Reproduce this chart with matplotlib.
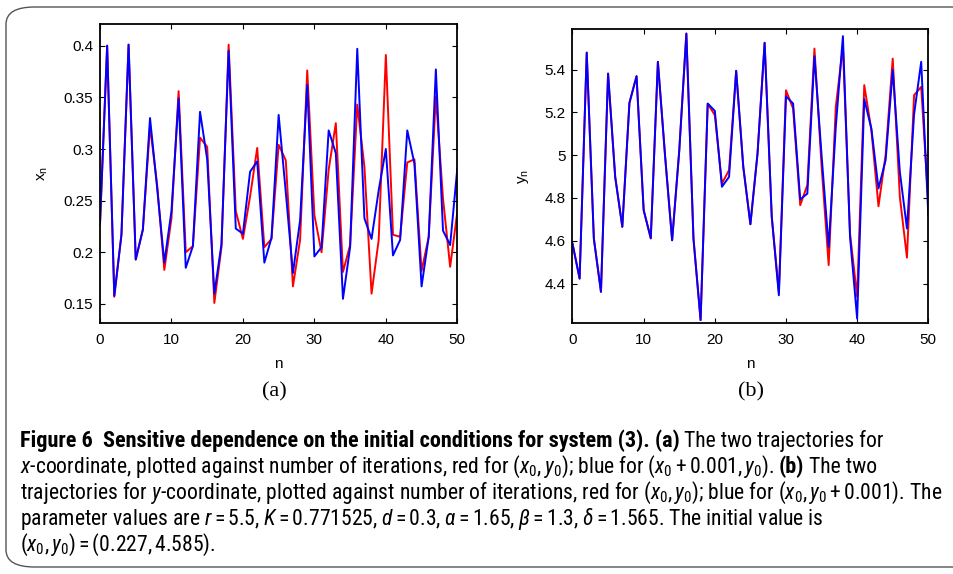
import matplotlib
matplotlib.use("Agg")
import matplotlib.pyplot as plt
from matplotlib import font_manager
from matplotlib.patches import FancyBboxPatch

# iteration index
n = list(range(51))

# panel (a): x_n, red = (x0, y0), blue = (x0 + 0.001, y0)
x_red = [0.227, 0.400, 0.157, 0.217, 0.401, 0.193, 0.222, 0.322, 0.265, 0.183,
         0.233, 0.356, 0.200, 0.206, 0.311, 0.302, 0.151, 0.205, 0.401, 0.240,
         0.213, 0.254, 0.301, 0.205, 0.213, 0.304, 0.289, 0.167, 0.212, 0.376,
         0.236, 0.200, 0.280, 0.325, 0.181, 0.207, 0.343, 0.283, 0.160, 0.212,
         0.391, 0.217, 0.215, 0.287, 0.290, 0.182, 0.215, 0.351, 0.252, 0.186,
         0.239]
x_blue = [0.228, 0.400, 0.158, 0.217, 0.401, 0.193, 0.222, 0.330, 0.262, 0.190,
          0.240, 0.349, 0.185, 0.206, 0.336, 0.290, 0.160, 0.208, 0.395, 0.223,
          0.218, 0.278, 0.288, 0.190, 0.214, 0.333, 0.258, 0.180, 0.231, 0.362,
          0.196, 0.205, 0.318, 0.296, 0.155, 0.205, 0.397, 0.233, 0.213, 0.260,
          0.300, 0.197, 0.212, 0.318, 0.286, 0.167, 0.215, 0.377, 0.221, 0.207,
          0.281]

# panel (b): y_n, red = (x0, y0), blue = (x0, y0 + 0.001)
y_red = [4.585, 4.423, 5.479, 4.610, 4.361, 5.381, 4.898, 4.665, 5.244, 5.369,
         4.743, 4.610, 5.436, 5.000, 4.602, 5.020, 5.568, 4.610, 4.229, 5.240,
         5.187, 4.867, 4.930, 5.394, 4.945, 4.677, 5.007, 5.525, 4.712, 4.360,
         5.303, 5.218, 4.766, 4.860, 5.498, 4.950, 4.486, 5.226, 5.506, 4.634,
         4.338, 5.327, 5.117, 4.761, 5.000, 5.451, 4.805, 4.521, 5.280, 5.319,
         4.780]
y_blue = [4.587, 4.423, 5.479, 4.610, 4.361, 5.381, 4.898, 4.665, 5.244, 5.369,
          4.743, 4.612, 5.436, 5.000, 4.602, 5.020, 5.568, 4.610, 4.229, 5.241,
          5.207, 4.852, 4.898, 5.394, 4.945, 4.677, 5.007, 5.525, 4.712, 4.345,
          5.275, 5.241, 4.793, 4.820, 5.462, 5.000, 4.571, 5.132, 5.556, 4.618,
          4.236, 5.261, 5.124, 4.844, 4.976, 5.397, 4.922, 4.657, 5.190, 5.436,
          4.720]

x_ticks = [0, 10, 20, 30, 40, 50]
xa_ticks = [0.15, 0.2, 0.25, 0.3, 0.35, 0.4]
yb_ticks = [4.4, 4.6, 4.8, 5.0, 5.2, 5.4]

# caption font: a narrow sans if one is there, else Liberation Sans
names = {f.name for f in font_manager.fontManager.ttflist}
cap_font = 'Liberation Sans'
for cand in ['Liberation Sans Narrow', 'Roboto Condensed', 'Open Sans Condensed',
             'Noto Sans Condensed', 'DejaVu Sans Condensed']:
    if cand in names:
        cap_font = cand
        break
plt.rcParams['font.family'] = 'Liberation Sans'
plt.rcParams['mathtext.fontset'] = 'custom'
plt.rcParams['mathtext.rm'] = cap_font
plt.rcParams['mathtext.it'] = cap_font + ':italic'
plt.rcParams['mathtext.bf'] = cap_font + ':bold'

W, H = 954, 574
fig = plt.figure(figsize=(W / 100, H / 100), dpi=100)

# rounded frame around the figure
frame = FancyBboxPatch((6 / W, 7 / H), 1.2, (H - 14) / H, transform=fig.transFigure,
                       boxstyle="round,pad=0,rounding_size=0.03", fill=False,
                       edgecolor='#555555', linewidth=1.0)
fig.patches.append(frame)


def px_axes(x0, x1, top, bottom):
    return fig.add_axes([x0 / W, (H - bottom) / H, (x1 - x0) / W, (bottom - top) / H])


def style(ax):
    ax.tick_params(direction='in', top=True, right=True, length=3.4, width=0.8,
                   labelsize=11, labelfontfamily='Liberation Sans')
    ax.tick_params(axis='x', pad=7)
    ax.tick_params(axis='y', pad=5)
    for s in ax.spines.values():
        s.set_linewidth(1.3)


ax1 = px_axes(100, 457.3, 24.3, 323.3)
ax1.plot(n, x_red, color='#ff0000', lw=1.4)
ax1.plot(n, x_blue, color='#0000ff', lw=1.4)
ax1.set_xlim(0, 50)
ax1.set_ylim(0.1313, 0.4207)
ax1.set_xticks(x_ticks)
ax1.set_yticks(xa_ticks)
ax1.set_yticklabels(['%g' % v for v in xa_ticks])
style(ax1)
ax1.set_xlabel('n', fontsize=11, labelpad=7)
ax1.set_ylabel(r'$\mathregular{x_n}$', fontsize=11, labelpad=10)

ax2 = px_axes(572.5, 928.3, 29.3, 323.3)
ax2.plot(n, y_red, color='#ff0000', lw=1.4)
ax2.plot(n, y_blue, color='#0000ff', lw=1.4)
ax2.set_xlim(0, 50)
ax2.set_ylim(4.214, 5.588)
ax2.set_xticks(x_ticks)
ax2.set_yticks(yb_ticks)
ax2.set_yticklabels(['%g' % v for v in yb_ticks])
style(ax2)
ax2.set_xlabel('n', fontsize=11, labelpad=7)
ax2.set_ylabel(r'$\mathregular{y_n}$', fontsize=11, labelpad=10)

fig.text(274 / W, 1 - 392 / H, '(a)', ha='center', va='center',
         family='Liberation Serif', fontsize=16)
fig.text(751 / W, 1 - 392 / H, '(b)', ha='center', va='center',
         family='Liberation Serif', fontsize=16)

# caption, drawn run by run so bold and regular text can share a line
renderer = fig.canvas.get_renderer()
line3 = (r'trajectories for $y$-coordinate, plotted against number of iterations, red for '
         r'$(x_0,y_0)$; blue for $(x_0,y_0+0.001)$. The')
probe = fig.text(0, 0, line3, fontsize=12, family=cap_font)
cap_size = 12 * 922 / probe.get_window_extent(renderer).width
probe.remove()
gap = cap_size * 0.3


def caption_line(y, parts, x=20):
    for s, w in parts:
        size = cap_size * 1.03 if w == 'bold' else cap_size
        t = fig.text(x / W, 1 - y / H, s, fontsize=size, fontweight=w,
                     family=cap_font, va='baseline', ha='left')
        x += t.get_window_extent(renderer).width + gap


caption_line(447, [('Figure 6  Sensitive dependence on the initial conditions for system (3). (a)', 'bold'),
                   ('The two trajectories for', 'normal')])
caption_line(473, [(r'$x$-coordinate, plotted against number of iterations, red for $(x_0,y_0)$; '
                    r'blue for $(x_0+0.001,y_0)$.', 'normal'),
                   ('(b)', 'bold'), ('The two', 'normal')])
caption_line(499, [(line3, 'normal')])
caption_line(525, [(r'parameter values are $r=5.5$, $K=0.771525$, $d=0.3$, $\alpha=1.65$, '
                    r'$\beta=1.3$, $\delta=1.565$. The initial value is', 'normal')])
caption_line(551, [(r'$(x_0,y_0)=(0.227,4.585)$.', 'normal')])

fig.savefig('out.png', dpi=100)
